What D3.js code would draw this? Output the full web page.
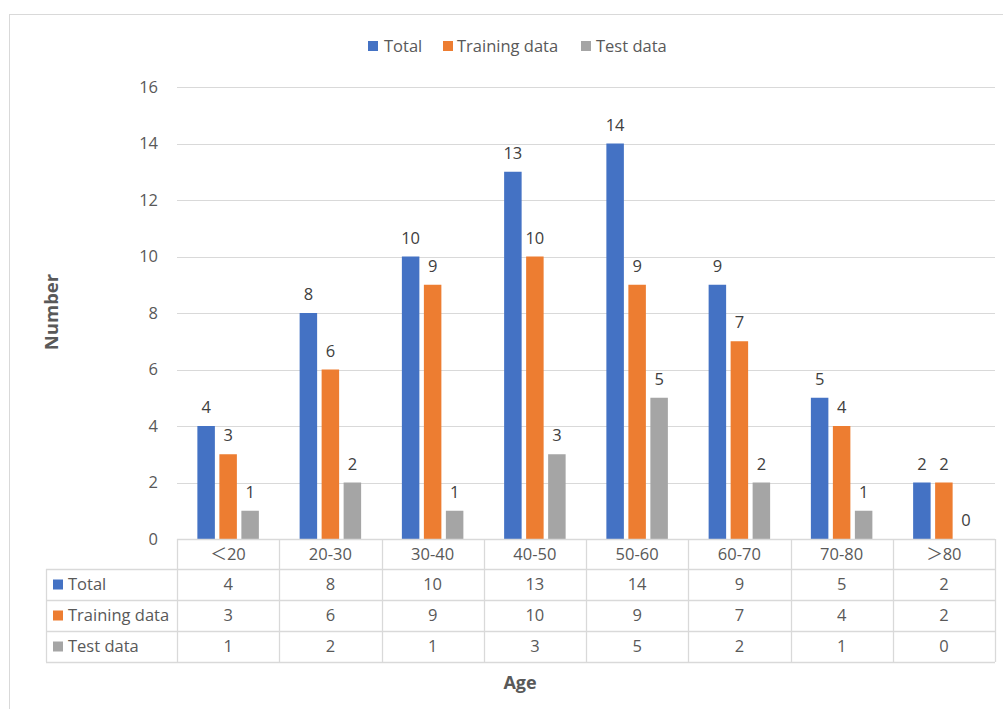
<!DOCTYPE html>
<html>
<head>
<meta charset="utf-8">
<script src="https://cdn.jsdelivr.net/npm/d3@7"></script>
<style>
  html, body { margin: 0; padding: 0; background: #fff; }
  svg { display: block; font-family: "Open Sans", "Noto Sans", "Noto Sans CJK SC", sans-serif; }
</style>
</head>
<body>
<svg id="chart" width="1003" height="709"></svg>
<script>
// Age groups and counts per subset
const categories = ["\uFF1C20", "20-30", "30-40", "40-50", "50-60", "60-70", "70-80", "\uFF1E80"];
const seriesNames = ["Total", "Training data", "Test data"];
const totalValues = [4, 8, 10, 13, 14, 9, 5, 2];
const trainingValues = [3, 6, 9, 10, 9, 7, 4, 2];
const testValues = [1, 2, 1, 3, 5, 2, 1, 0];
const yTicks = [0, 2, 4, 6, 8, 10, 12, 14, 16];

const colors = ["#4472C4", "#ED7D31", "#A5A5A5"];
const series = [totalValues, trainingValues, testValues].map((vals, i) => ({
  name: seriesNames[i], values: vals, color: colors[i]
}));

const svg = d3.select("#chart");
const textColor = "#595959";
const gridColor = "#D9D9D9";
const fs = 16.5;

// outer chart frame
svg.append("rect")
  .attr("x", 9.5).attr("y", 14.5).attr("width", 1010).attr("height", 720)
  .attr("fill", "none").attr("stroke", "#D9D9D9").attr("stroke-width", 1);

const plotLeft = 177, plotRight = 995, plotTop = 87, plotBottom = 539;

const x = d3.scaleBand().domain(categories).range([plotLeft, plotRight]);
const y = d3.scaleLinear().domain([0, 16]).range([plotBottom, plotTop]);

// grid lines
svg.append("g").selectAll("line").data(yTicks).join("line")
  .attr("x1", plotLeft).attr("x2", plotRight)
  .attr("y1", d => Math.round(y(d)) + 0.5).attr("y2", d => Math.round(y(d)) + 0.5)
  .attr("stroke", gridColor).attr("stroke-width", 1);

// y tick labels
svg.append("g").selectAll("text").data(yTicks).join("text")
  .attr("x", 158).attr("y", d => y(d))
  .attr("dy", "0.35em").attr("text-anchor", "end")
  .attr("fill", textColor).attr("font-size", fs)
  .text(d => d);

// bars inside each category
const barW = 17.5, barGap = 4.5;
const groupW = barW * 3 + barGap * 2;
const barX = (ci, si) => x(categories[ci]) + x.bandwidth() / 2 - groupW / 2 + si * (barW + barGap);

series.forEach((s, si) => {
  const g = svg.append("g");
  g.selectAll("rect").data(s.values).join("rect")
    .attr("x", (d, i) => barX(i, si))
    .attr("y", d => y(d))
    .attr("width", barW)
    .attr("height", d => y(0) - y(d))
    .attr("fill", s.color);
  g.selectAll("text").data(s.values).join("text")
    .attr("x", (d, i) => barX(i, si) + barW / 2)
    .attr("y", d => y(d) - 13)
    .attr("text-anchor", "middle")
    .attr("fill", "#404040").attr("font-size", fs)
    .text(d => d);
});

// data table under the plot
const rowH = 31;
const headerTop = plotBottom, headerBottom = plotBottom + 30;
const tableLeft = 46;
const tableBottom = headerBottom + rowH * 3;
const tg = svg.append("g").attr("stroke", gridColor).attr("stroke-width", 1.3);

// horizontal rules
tg.append("line").attr("x1", plotLeft).attr("x2", plotRight).attr("y1", headerTop + 0.5).attr("y2", headerTop + 0.5);
for (let r = 0; r <= 3; r++) {
  const yy = headerBottom + r * rowH + 0.5;
  tg.append("line").attr("x1", tableLeft).attr("x2", plotRight).attr("y1", yy).attr("y2", yy);
}
// vertical rules
tg.append("line").attr("x1", tableLeft + 0.5).attr("x2", tableLeft + 0.5).attr("y1", headerBottom).attr("y2", tableBottom);
categories.forEach(c => {
  const xx = Math.round(x(c)) + 0.5;
  tg.append("line").attr("x1", xx).attr("x2", xx).attr("y1", headerTop).attr("y2", tableBottom);
});
tg.append("line").attr("x1", plotRight + 0.5).attr("x2", plotRight + 0.5).attr("y1", headerTop).attr("y2", tableBottom);

// header row: category names
svg.append("g").selectAll("text").data(categories).join("text")
  .attr("x", d => x(d) + x.bandwidth() / 2)
  .attr("y", (headerTop + headerBottom) / 2)
  .attr("dy", "0.35em").attr("text-anchor", "middle")
  .attr("fill", textColor).attr("font-size", fs)
  .text(d => d);

// series rows
series.forEach((s, si) => {
  const cy = headerBottom + si * rowH + rowH / 2;
  svg.append("rect").attr("x", 53).attr("y", cy - 5).attr("width", 10).attr("height", 10).attr("fill", s.color);
  svg.append("text").attr("x", 68).attr("y", cy).attr("dy", "0.35em")
    .attr("fill", textColor).attr("font-size", fs).text(s.name);
  svg.append("g").selectAll("text").data(s.values).join("text")
    .attr("x", (d, i) => x(categories[i]) + x.bandwidth() / 2)
    .attr("y", cy).attr("dy", "0.35em").attr("text-anchor", "middle")
    .attr("fill", textColor).attr("font-size", fs)
    .text(d => d);
});

// legend
const legendItems = [
  { sx: 368, tx: 384 },
  { sx: 443, tx: 457 },
  { sx: 581, tx: 596 }
];
series.forEach((s, i) => {
  svg.append("rect").attr("x", legendItems[i].sx).attr("y", 41).attr("width", 10).attr("height", 10).attr("fill", s.color);
  svg.append("text").attr("x", legendItems[i].tx).attr("y", 46).attr("dy", "0.35em")
    .attr("fill", textColor).attr("font-size", fs).text(s.name);
});

// axis titles
svg.append("text")
  .attr("transform", "translate(52,312) rotate(-90)")
  .attr("text-anchor", "middle").attr("dy", "0.35em")
  .attr("fill", textColor).attr("font-size", 18.5).attr("font-weight", "bold")
  .text("Number");
svg.append("text")
  .attr("x", 520).attr("y", 683).attr("dy", "0.35em")
  .attr("text-anchor", "middle")
  .attr("fill", textColor).attr("font-size", 18).attr("font-weight", "bold")
  .text("Age");
</script>
</body>
</html>
